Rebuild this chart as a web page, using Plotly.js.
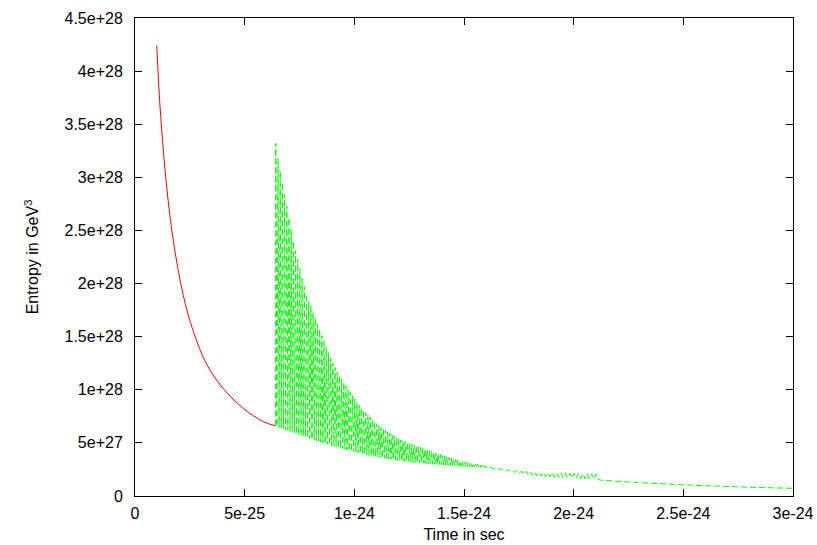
<!DOCTYPE html>
<html>
<head>
<meta charset="utf-8">
<script src="https://cdn.plot.ly/plotly-3.0.1.min.js"></script>
<style>
  html, body { margin: 0; padding: 0; background: #fff; }
  #chart { width: 817px; height: 545px; }
</style>
</head>
<body>
<div id="chart"></div>
<script>
// values; time in units of 1e-25 s, entropy in units of 1e27 GeV^3
const T_UNIT = 1e-25;
const S_UNIT = 1e27;

// red curve (before the transition)
const redT = [0.99, 1.14, 1.29, 1.45, 1.75, 2.2, 2.66, 3.27, 4.03, 4.94, 5.85, 6.41];
const redS = [42.4, 36.7, 32.6, 29.0, 24.0, 18.9, 15.5, 12.4, 10.1, 8.25, 7.0, 6.6];

// green dashed curve, fast oscillation: tops of the spikes
const peakT = [
  6.42, 6.52, 6.62, 6.72, 6.82, 6.92, 7.02, 7.12, 7.22, 7.32,
  7.42, 7.52, 7.62, 7.72, 7.82, 7.92, 8.02, 8.12, 8.22, 8.32,
  8.42, 8.52, 8.62, 8.72, 8.82, 8.92, 9.02, 9.12, 9.22, 9.32,
  9.42, 9.52, 9.62, 9.72, 9.82, 9.92, 10.02, 10.12, 10.22, 10.32,
  10.42, 10.52, 10.62, 10.72, 10.82, 10.92, 11.02, 11.12, 11.22, 11.32,
  11.42, 11.52, 11.62, 11.72, 11.82, 11.92, 12.02, 12.12, 12.22, 12.32,
  12.42, 12.52, 12.62, 12.72, 12.82, 12.92, 13.02, 13.12, 13.22, 13.32,
  13.42, 13.52, 13.62, 13.72, 13.82, 13.92, 14.02, 14.12, 14.22, 14.32,
  14.42, 14.52, 14.62, 14.72, 14.82, 14.92, 15.02, 15.12, 15.22, 15.32,
  15.42, 15.52, 15.62, 15.72, 15.82, 15.92, 16.02, 16.12
];
const peakS = [
  33.2, 31.8, 30.6, 29.5, 28.4, 27.3, 26.2, 25.1, 24.0, 23.1,
  22.3, 21.4, 20.5, 19.7, 19.0, 18.4, 17.9, 17.3, 16.8, 16.2,
  15.7, 15.1, 14.6, 14.0, 13.5, 13.0, 12.5, 12.1, 11.7, 11.35,
  11.0, 10.7, 10.35, 10.05, 9.75, 9.44, 9.13, 8.82, 8.52, 8.29,
  8.07, 7.86, 7.65, 7.44, 7.23, 7.02, 6.81, 6.61, 6.43, 6.30,
  6.17, 6.04, 5.91, 5.77, 5.64, 5.51, 5.38, 5.28, 5.19, 5.11,
  5.04, 4.96, 4.88, 4.80, 4.73, 4.65, 4.58, 4.50, 4.43, 4.35,
  4.28, 4.20, 4.13, 4.05, 3.97, 3.90, 3.83, 3.76, 3.70, 3.63,
  3.57, 3.50, 3.43, 3.37, 3.30, 3.26, 3.22, 3.18, 3.14, 3.10,
  3.06, 3.02, 2.98, 2.94, 2.90, 2.86, 2.82, 2.78
];
// bottoms of the spikes
const troughT = [
  6.47, 6.57, 6.67, 6.77, 6.87, 6.97, 7.07, 7.17, 7.27, 7.37,
  7.47, 7.57, 7.67, 7.77, 7.87, 7.97, 8.07, 8.17, 8.27, 8.37,
  8.47, 8.57, 8.67, 8.77, 8.87, 8.97, 9.07, 9.17, 9.27, 9.37,
  9.47, 9.57, 9.67, 9.77, 9.87, 9.97, 10.07, 10.17, 10.27, 10.37,
  10.47, 10.57, 10.67, 10.77, 10.87, 10.97, 11.07, 11.17, 11.27, 11.37,
  11.47, 11.57, 11.67, 11.77, 11.87, 11.97, 12.07, 12.17, 12.27, 12.37,
  12.47, 12.57, 12.67, 12.77, 12.87, 12.97, 13.07, 13.17, 13.27, 13.37,
  13.47, 13.57, 13.67, 13.77, 13.87, 13.97, 14.07, 14.17, 14.27, 14.37,
  14.47, 14.57, 14.67, 14.77, 14.87, 14.97, 15.07, 15.17, 15.27, 15.37,
  15.47, 15.57, 15.67, 15.77, 15.87, 15.97, 16.07, 16.17
];
const troughS = [
  6.56, 6.48, 6.40, 6.32, 6.24, 6.16, 6.08, 6.00, 5.93, 5.85,
  5.78, 5.70, 5.63, 5.56, 5.49, 5.42, 5.35, 5.28, 5.21, 5.14,
  5.08, 5.01, 4.95, 4.88, 4.82, 4.75, 4.69, 4.63, 4.57, 4.51,
  4.45, 4.39, 4.33, 4.27, 4.22, 4.16, 4.11, 4.06, 4.01, 3.96,
  3.91, 3.87, 3.82, 3.78, 3.74, 3.70, 3.66, 3.62, 3.58, 3.54,
  3.51, 3.47, 3.44, 3.41, 3.38, 3.35, 3.32, 3.29, 3.26, 3.24,
  3.21, 3.19, 3.17, 3.15, 3.13, 3.11, 3.09, 3.07, 3.05, 3.03,
  3.01, 2.99, 2.98, 2.96, 2.95, 2.93, 2.92, 2.90, 2.89, 2.87,
  2.86, 2.84, 2.83, 2.82, 2.80, 2.79, 2.78, 2.77, 2.75, 2.74,
  2.73, 2.72, 2.71, 2.70, 2.69, 2.68, 2.67, 2.66
];

// green dashed curve after that: small ripple, then smooth tail
const tailT = [
  16.22, 16.32, 16.42, 16.52, 16.62, 16.72, 16.82, 16.92, 17.02, 17.12,
  17.22, 17.32, 17.42, 17.52, 17.62, 17.72, 17.82, 17.92, 18.02, 18.12,
  18.22, 18.32, 18.42, 18.52, 18.62, 18.72, 18.82, 18.92, 19.02, 19.12,
  19.22, 19.32, 19.42, 19.52, 19.62, 19.72, 19.82, 19.92, 20.02, 20.12,
  20.22, 20.32, 20.42, 20.52, 20.62, 20.72, 20.82, 20.92, 21.02, 21.12,
  21.2, 22.0, 23.0, 24.0, 25.0, 26.0, 27.0, 28.0, 29.0, 30.0
];
const tailS = [
  2.68, 2.59, 2.63, 2.52, 2.58, 2.45, 2.53, 2.38, 2.48, 2.30,
  2.43, 2.21, 2.39, 2.13, 2.36, 2.07, 2.32, 2.01, 2.28, 1.95,
  2.25, 1.90, 2.22, 1.86, 2.21, 1.83, 2.20, 1.80, 2.19, 1.78,
  2.18, 1.75, 2.17, 1.74, 2.16, 1.72, 2.15, 1.70, 2.13, 1.68,
  2.12, 1.65, 2.10, 1.63, 2.09, 1.61, 2.08, 1.59, 2.07, 1.58,
  1.50, 1.38, 1.26, 1.15, 1.05, 0.97, 0.90, 0.83, 0.77, 0.72
];

// axis ticks
const xTickVals = [0, 5e-25, 1e-24, 1.5e-24, 2e-24, 2.5e-24, 3e-24];
const xTickText = ["0", "5e-25", "1e-24", "1.5e-24", "2e-24", "2.5e-24", "3e-24"];
const yTickVals = [0, 5e27, 1e28, 1.5e28, 2e28, 2.5e28, 3e28, 3.5e28, 4e28, 4.5e28];
const yTickText = ["0", "5e+27", "1e+28", "1.5e+28", "2e+28", "2.5e+28", "3e+28", "3.5e+28", "4e+28", "4.5e+28"];

// green line starts where the red one ends, then goes peak, trough, peak, ...
let gT = [redT[redT.length - 1]];
let gS = [redS[redS.length - 1]];
for (let i = 0; i < peakT.length; i++) {
  gT.push(peakT[i], troughT[i]);
  gS.push(peakS[i], troughS[i]);
}
gT = gT.concat(tailT);
gS = gS.concat(tailS);

const redLine = {
  x: redT.map((v) => v * T_UNIT),
  y: redS.map((v) => v * S_UNIT),
  type: "scatter",
  mode: "lines",
  line: { color: "#ff0000", width: 1, shape: "spline" },
  hoverinfo: "skip",
};

const greenLine = {
  x: gT.map((v) => v * T_UNIT),
  y: gS.map((v) => v * S_UNIT),
  type: "scatter",
  mode: "lines",
  line: { color: "#00ff00", width: 1, dash: "6px,3px", simplify: false },
  hoverinfo: "skip",
};

const font = { family: "Liberation Sans, Arial, sans-serif", size: 16, color: "#000" };

const axisCommon = {
  showgrid: false,
  zeroline: false,
  showline: true,
  linecolor: "#000",
  linewidth: 1,
  mirror: "ticks",
  ticks: "inside",
  ticklen: 7,
  tickwidth: 1,
  tickcolor: "#000",
  tickfont: font,
};

const layout = {
  width: 817,
  height: 545,
  margin: { l: 135, r: 24, t: 18, b: 49 },
  paper_bgcolor: "#fff",
  plot_bgcolor: "#fff",
  showlegend: false,
  font: font,
  xaxis: Object.assign({}, axisCommon, {
    range: [0, 3e-24],
    tickvals: xTickVals,
    ticktext: xTickText,
    ticklabelstandoff: 3,
    title: { text: "Time in sec", font: font, standoff: 7 },
  }),
  yaxis: Object.assign({}, axisCommon, {
    range: [0, 4.5e28],
    tickvals: yTickVals,
    ticktext: yTickText,
    ticklabelstandoff: 8,
    title: { text: "Entropy in GeV<sup>3</sup>", font: font, standoff: 21 },
  }),
};

Plotly.newPlot("chart", [redLine, greenLine], layout, { staticPlot: true });
</script>
</body>
</html>
